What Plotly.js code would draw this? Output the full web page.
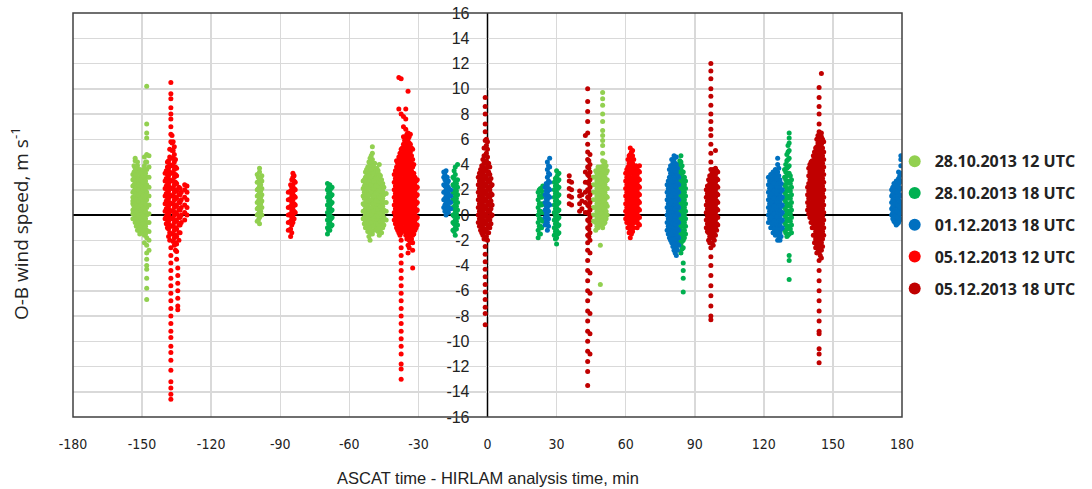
<!DOCTYPE html>
<html>
<head>
<meta charset="utf-8">
<script src="https://cdn.plot.ly/plotly-3.0.1.min.js"></script>
<style>html,body{margin:0;padding:0;background:#fff}#chart{width:1092px;height:489px}</style>
</head>
<body>
<div id="chart"></div>
<script>
// Series names
const seriesNames = ["28.10.2013 12 UTC", "28.10.2013 18 UTC", "01.12.2013 18 UTC", "05.12.2013 12 UTC", "05.12.2013 18 UTC"];
const seriesColors = ["#92D050", "#00B050", "#0070C0", "#FF0000", "#C00000"];

// 28.10.2013 12 UTC: x (min) of each point column, and the y values (O-B, m/s) in that column
const lightGreenCols = [-154, -153, -152, -151, -150, -149, -148, -147,
  -100, -99, -98,
  -54, -53, -52, -51, -50, -49, -48, -47, -46, -45, -44,
  46, 47, 48, 49, 50, 51, 52,
  -153.5, -152.5, -151.5, -150.5, -149.5, -148.5,
  -99.5, -98.5,
  -53.5, -52.5, -51.5, -50.5, -49.5, -48.5, -47.5, -46.5, -45.5,
  47.5, 48.5, 49.5, 50.5, 51.5];
const lightGreenY = [
  [0.4,0.9,1.4,1.8,2.3,2.8,3.2,1.1,0.1,-0.3],
  [-0.6,-0.1,0.5,1.0,1.6,2.1,2.6,3.1,3.7,4.3,4.5,0.8,1.3],
  [-1.2,-0.6,0,0.4,0.9,1.4,1.9,2.4,2.9,3.4,3.9,4.2,1.2,2.2],
  [-1.5,-0.9,-0.3,0.3,0.8,1.3,1.7,2.1,2.6,3.0,3.6,0.6,1.5],
  [-1.0,-0.5,0.1,0.6,1.0,1.5,2.0,2.5,3.1,3.5,-1.3],
  [-2.2,-1.6,-1.0,-0.4,0.2,0.7,1.2,1.7,2.3,2.8,3.4,3.9,4.6],
  [10.2,7.2,6.5,6.1,4.8,4.2,3.6,3.0,2.4,1.8,1.2,0.6,0,-0.6,-1.2,-1.8,-2.4,-3.0,-3.5,-4.0,-4.3,-5.0,-5.8,-6.7],
  [-2.8,-2.0,-1.3,-0.6,0.1,0.8,1.5,2.2,3.0,3.8,4.7],
  [-0.5,0,0.5,1.0,1.5,2.0,2.6,3.2],
  [-0.7,-0.2,0.3,0.8,1.3,1.8,2.3,2.8,3.4,3.7],
  [0,0.6,1.1,1.6,2.1,2.7,3.1],
  [-0.3,0.3,0.9,1.5,2.1,2.7],
  [-1,-0.5,0,0.5,1,1.5,2,2.5,3,3.4],
  [-1.3,-0.7,-0.2,0.3,0.8,1.3,1.8,2.3,2.8,3.3,3.8],
  [-2.0,-1.4,-0.8,-0.2,0.4,1.0,1.6,2.2,2.8,3.4,4.0,4.5],
  [-1.5,-0.9,-0.3,0.3,0.9,1.5,2.1,2.7,3.3,3.9,4.4,5.4,4.9],
  [-1.2,-0.6,0,0.6,1.2,1.8,2.4,3.0,3.6,4.1],
  [-1.0,-0.4,0.2,0.8,1.4,2.0,2.6,3.2,3.7],
  [-1.6,-1.0,-0.4,0.2,0.8,1.4,2.0,2.6,3.2,4.0],
  [-1.4,-0.8,-0.2,0.4,1.0,1.6,2.2,2.8],
  [-0.8,-0.2,0.4,1.0,1.6,2.2],
  [-0.4,0.3,1.0,1.7],
  [-0.5,0,0.6,1.2,1.8,2.4,3.0],
  [-1.2,-0.6,0,0.6,1.2,1.8,2.4,3.0,3.5],
  [-1.0,-0.4,0.2,0.8,1.4,2.0,2.6,3.2,3.8],
  [-2.4,-5.5,-0.8,-0.2,0.4,1.0,1.6,2.2,2.8,3.4,3.8],
  [-1.0,-0.4,0.2,0.8,1.4,2.0,2.6,3.2,3.8,4.3,4.9,5.5,5.9,6.3,6.7,7.4,8.0,8.7,9.2,9.7],
  [-0.6,0,0.6,1.2,1.8,2.4,3.0,3.6,4.2],
  [0,0.7,1.4,2.1,2.8,3.5],
  [-0.3,0.2,0.7,1.3,1.9,2.4,2.9,3.4,3.9],
  [-0.9,-0.3,0.3,0.7,1.2,1.7,2.2,2.7,3.2,3.7],
  [-1.2,-0.6,0,0.6,1.1,1.6,2.0,2.4,2.8,3.3],
  [-0.8,-0.2,0.4,0.8,1.3,1.8,2.3,2.8,3.3],
  [-1.3,-0.7,-0.1,0.5,1.0,1.5,2.0,2.6,3.1,3.6],
  [-1.5,-0.9,-0.3,0.3,0.9,1.5,2.1,2.7,3.3,4.2],
  [-0.4,0.1,0.6,1.1,1.6,2.1,2.6,3.0],
  [0.3,0.9,1.4,1.9,2.4,2.9],
  [-0.7,-0.2,0.3,0.8,1.3,1.8,2.3,2.8],
  [-1.0,-0.4,0.1,0.6,1.1,1.6,2.1,2.6,3.1,3.6],
  [-1.7,-1.1,-0.5,0.1,0.6,1.1,1.6,2.1,2.6,3.1,3.7,4.2],
  [-1.2,-0.6,0,0.6,1.2,1.8,2.4,3.0,3.6,4.2,4.7],
  [-0.9,-0.3,0.3,0.9,1.5,2.1,2.7,3.3,3.9],
  [-0.7,-0.1,0.5,1.1,1.7,2.3,2.9,3.5],
  [-1.3,-0.7,-0.1,0.5,1.1,1.7,2.3,2.9,3.5],
  [-1.1,-0.5,0.1,0.7,1.3,1.9,2.5,3.1],
  [-1.0,-0.5,0.1,0.7,1.3,1.9,2.5],
  [-0.9,-0.3,0.3,0.9,1.5,2.1,2.7,3.3],
  [-0.7,-0.1,0.5,1.1,1.7,2.3,2.9,3.5],
  [-0.5,0.1,0.7,1.3,1.9,2.5,3.1,3.6],
  [-0.7,-0.1,0.5,1.1,1.7,2.3,2.9,3.5,4.0],
  [-0.3,0.3,0.9,1.5,2.1,2.7,3.3,3.9]
];

// 28.10.2013 18 UTC
const greenCols = [-69.5, -68.5, -67.5,
  -15, -14, -13,
  22, 23, 24,
  29, 30, 31,
  83, 84, 85, 86,
  129, 130, 131, 132,
  -69, -68, -14.5, -13.5, 22.5, 23.5, 29.5, 30.5,
  83.5, 84.5, 85.5, 129.5, 130.5, 131.5];
const greenY = [
  [-1.5,-1,-0.4,0.2,0.8,1.4,2.0,2.5],
  [-1.2,-0.6,0,0.6,1.2,1.8,2.4],
  [-0.8,-0.2,0.4,1.0,1.6,2.2],
  [-1.2,-0.6,0,0.6,1.2,1.8,2.4,3.0],
  [-1.6,-1.0,-0.4,0.2,0.8,1.4,2.0,2.6,3.2,3.8],
  [-0.8,-0.2,0.4,1.0,1.6,2.2,2.8,4.0],
  [-1.8,-1.2,-0.6,0,0.6,1.2,1.8],
  [-1.5,-0.9,-0.3,0.3,0.9,1.5,2.1],
  [-0.5,0.2,0.9,1.6,2.3],
  [-1.6,-1.0,-0.4,0.2,0.8,1.4,2.0,2.6],
  [-2.3,-1.8,-1.2,-0.6,0,0.6,1.2,1.8,2.4,3.0,3.5],
  [-1.4,-0.8,-0.2,0.4,1.0,1.6,2.2,2.8,3.3],
  [-2.0,-1.4,-0.8,-0.2,0.4,1.0,1.6,2.2,2.8,3.4,4.0],
  [-3.0,-2.4,-1.8,-1.2,-0.6,0,0.6,1.2,1.8,2.4,3.0,3.6,4.2,4.7],
  [-3.8,-4.4,-5.0,-6.1,-2.6,-2.0,-1.4,-0.8,-0.2,0.4,1.0,1.6,2.2,2.8,3.4],
  [-1.5,-0.9,-0.3,0.3,0.9,1.5,2.1,2.7],
  [-1.2,-0.6,0,0.6,1.2,1.8,2.4,3.0,3.6],
  [-1.7,-1.1,-0.5,0.1,0.7,1.3,1.9,2.5,3.1,3.7,4.3,4.8],
  [-3.2,-3.6,-5.1,-1.5,-0.9,-0.3,0.3,0.9,1.5,2.1,2.7,3.3,3.9,4.5,5.1,5.7,6.1,6.5],
  [-1.4,-0.8,-0.2,0.4,1.0,1.6,2.2,2.8],
  [-1.2,-0.7,-0.1,0.5,1.1,1.7,2.2],
  [-0.9,-0.3,0.3,0.9,1.5,2.1],
  [-1.3,-0.7,-0.1,0.5,1.1,1.7,2.3,2.9,3.5],
  [-1.1,-0.5,0.1,0.7,1.3,1.9,2.5],
  [-1.5,-0.9,-0.3,0.3,0.9,1.5,2.0],
  [-1.0,-0.4,0.2,0.8,1.4,1.9],
  [-1.9,-1.3,-0.7,-0.1,0.5,1.1,1.7,2.3,2.9],
  [-1.5,-0.9,-0.3,0.3,0.9,1.5,2.1,2.7,3.2],
  [-2.3,-1.7,-1.1,-0.5,0.1,0.7,1.3,1.9,2.5,3.1,3.7,4.3],
  [-2.7,-2.1,-1.5,-0.9,-0.3,0.3,0.9,1.5,2.1,2.7,3.3,3.9],
  [-1.8,-1.2,-0.6,0,0.6,1.2,1.8,2.4,3.0],
  [-1.4,-0.8,-0.2,0.4,1.0,1.6,2.2,2.8,3.4,4.0],
  [-1.6,-1.0,-0.4,0.2,0.8,1.4,2.0,2.6,3.2,3.8,4.4,5.0,5.5],
  [-1.1,-0.5,0.1,0.7,1.3,1.9,2.5,3.1]
];

// 01.12.2013 18 UTC
const blueCols = [-19, -18, -17, -16,
  25, 26, 27,
  78, 79, 80, 81, 82, 83,
  122, 123, 124, 125, 126, 127, 128,
  175.5, 176.5, 177.5, 178.5, 179.5,
  -18.5, -17.5, 25.5, 26.5,
  78.5, 79.5, 80.5, 81.5, 82.5,
  122.5, 123.5, 124.5, 125.5, 126.5, 127.5,
  176, 177, 178, 179];
const blueY = [
  [0.6,1.2,1.8,2.4,3.0,3.4],
  [0,0.5,1.0,1.5,2.0,2.5,3.0,3.5],
  [0.2,0.7,1.2,1.7,2.2,2.7],
  [0.5,1.0,1.5,2.0],
  [-0.8,-0.2,0.4,1.0,1.6,2.2],
  [-1.2,-0.6,0,0.6,1.2,1.8,2.4,3.0,3.6,4.2],
  [0.8,1.4,2.0,2.6,3.2,3.8,4.5],
  [-1.2,-0.6,0,0.6,1.2,1.8,2.4],
  [-1.8,-1.2,-0.6,0,0.6,1.2,1.8,2.4,3.0,3.6],
  [-2.2,-1.6,-1.0,-0.4,0.2,0.8,1.4,2.0,2.6,3.2,3.8,4.4],
  [-2.8,-2.2,-1.6,-1.0,-0.4,0.2,0.8,1.4,2.0,2.6,3.2,3.8,4.4,4.7],
  [-3.2,-2.6,-2.0,-1.4,-0.8,-0.2,0.4,1.0,1.6,2.2,2.8,3.4,4.0,4.6],
  [-2.4,-1.8,-1.2,-0.6,0,0.6,1.2,1.8,2.4,3.0],
  [-0.6,0,0.6,1.2,1.8,2.4,3.0],
  [-1.0,-0.4,0.2,0.8,1.4,2.0,2.6,3.2],
  [-1.4,-0.8,-0.2,0.4,1.0,1.6,2.2,2.8,3.4],
  [-1.6,-1.0,-0.4,0.2,0.8,1.4,2.0,2.6,3.2,3.6],
  [-2.0,-1.4,-0.8,-0.2,0.4,1.0,1.6,2.2,2.8,3.4,4.0,4.5],
  [-2.0,-1.4,-0.8,-0.2,0.4,1.0,1.6,2.2,2.8],
  [-1.0,-0.4,0.2,0.8,1.4,2.0],
  [0,0.5,1.0,1.5,2.0],
  [-0.5,0,0.5,1.0,1.5,2.0,2.5],
  [-0.8,-0.3,0.2,0.7,1.2,1.7,2.2,2.7],
  [-0.6,-0.1,0.4,0.9,1.4,1.9,2.4,2.9,3.4],
  [-0.3,0.3,0.9,1.5,2.1,2.7,3.3,3.9,4.4,4.7],
  [0.3,0.8,1.3,1.8,2.3,2.8,3.2],
  [0.5,1.0,1.5,2.0,2.5,3.0],
  [-0.5,0.1,0.7,1.3,1.9,2.5],
  [-0.9,-0.3,0.3,0.9,1.5,2.1,2.7,3.3,3.9],
  [-1.5,-0.9,-0.3,0.3,0.9,1.5,2.1,2.7],
  [-2.0,-1.5,-0.9,-0.3,0.3,0.9,1.5,2.1,2.7,3.3,3.9],
  [-2.5,-1.9,-1.3,-0.7,-0.1,0.5,1.1,1.7,2.3,2.9,3.5,4.1],
  [-3.0,-2.5,-1.9,-1.3,-0.7,-0.1,0.5,1.1,1.7,2.3,2.9,3.5,4.1],
  [-2.8,-2.3,-1.7,-1.1,-0.5,0.1,0.7,1.3,1.9,2.5,3.1,3.7],
  [-0.3,0.3,0.9,1.5,2.1,2.7],
  [-0.7,-0.1,0.5,1.1,1.7,2.3,2.9],
  [-1.1,-0.5,0.1,0.7,1.3,1.9,2.5,3.1],
  [-1.3,-0.7,-0.1,0.5,1.1,1.7,2.3,2.9,3.4],
  [-1.7,-1.1,-0.5,0.1,0.7,1.3,1.9,2.5,3.1,3.7],
  [-1.7,-1.1,-0.5,0.1,0.7,1.3,1.9,2.5],
  [-0.3,0.2,0.7,1.2,1.7,2.2],
  [-0.6,-0.1,0.4,0.9,1.4,1.9,2.4],
  [-0.7,-0.2,0.3,0.8,1.3,1.8,2.3,2.7],
  [-0.4,0.1,0.6,1.1,1.6,2.1,2.6,3.1]
];

// 05.12.2013 12 UTC
const redCols = [-140, -139, -138, -137.5, -137, -136, -135, -134.5, -134, -133,
  -131.5, -130.5,
  -86.5, -85.5, -84.5, -83.5,
  -40.5, -39.5, -38.5, -37.5, -36.5, -35.5, -34.5, -33.5, -32.5, -31.5, -30.5,
  60, 61, 62, 63, 64, 65, 66,
  -139.5, -138.5, -136.5, -135.5, -133.5,
  -85, -84,
  -40, -39, -38, -37, -36, -35, -34, -33, -32, -31,
  60.5, 61.5, 62.5, 63.5, 64.5, 65.5];
const redY = [
  [-0.3,0.3,0.9,1.5,2.1,2.7,3.3],
  [-1.0,-0.4,0.2,0.8,1.4,2.0,2.6,3.2,3.8,4.2],
  [-2.0,-1.4,-0.8,-0.2,0.4,1.0,1.6,2.2,2.8,3.4,4.0,4.6,5.2],
  [10.5,9.6,9.2,8.5,8.0,7.6,7.0,6.4,5.8,-2.6,-3.2,-3.8,-4.4,-5.0,-5.6,-6.2,-6.8,-7.4,-8.0,-8.6,-9.2,-9.7,-10.4,-10.9,-11.5,-12.3,-13.2,-13.7,-14.2,-14.6],
  [-1.5,-0.9,-0.3,0.3,0.9,1.5,2.1,2.7,3.3,3.9,4.5,5.1,5.7,6.3],
  [-2.4,-1.8,-1.2,-0.6,0,0.6,1.2,1.8,2.4,3.0,3.6,4.2,4.8,5.4],
  [-3.5,-2.9,-2.3,-1.7,-1.1,-0.5,0.1,0.7,1.3,1.9,2.5,3.1,3.7],
  [-4.2,-4.8,-5.4,-6.0,-6.6,-7.2,-7.5],
  [-2.0,-1.4,-0.8,-0.2,0.4,1.0,1.6,2.2],
  [-0.6,0,0.6,1.2,1.8],
  [-0.4,0.2,0.8,1.4,2.0,2.4],
  [0,0.6,1.2,1.8,2.3],
  [-1.2,-0.6,0,0.6,1.2,1.8],
  [-1.7,-1.1,-0.5,0.1,0.7,1.3,1.9,2.4],
  [-0.6,0,0.6,1.2,1.8,2.4,3.0,3.3],
  [0.2,0.8,1.4,2.0,2.6],
  [-0.4,0.2,0.8,1.4,2.0,2.6,3.2],
  [-1.0,-0.4,0.2,0.8,1.4,2.0,2.6,3.2,3.8,4.3],
  [-1.4,-0.8,-0.2,0.4,1.0,1.6,2.2,2.8,3.4,4.0,4.6,8.4,10.9],
  [-2.0,-2.6,-3.2,-3.8,-4.4,-5.0,-5.6,-6.2,-6.8,-7.4,-8.0,-8.6,-9.2,-9.8,-10.4,-11.0,-11.8,-12.2,-13.0,-1.4,-0.8,-0.2,0.4,1.0,1.6,2.2,2.8,3.4,4.0,4.6,5.2,8.0,10.8],
  [-1.0,-0.4,0.2,0.8,1.4,2.0,2.6,3.2,3.8,4.4,5.0,5.6,6.2,7.0,7.8],
  [-1.6,-1.0,-0.4,0.2,0.8,1.4,2.0,2.6,3.2,3.8,4.4,5.0,5.6,6.2,6.8,7.6,8.4],
  [-3.0,-2.4,-1.8,-1.2,-0.6,0,0.6,1.2,1.8,2.4,3.0,3.6,4.2,4.8,5.4,6.0,6.5,9.8],
  [-2.2,-1.6,-1.0,-0.4,0.2,0.8,1.4,2.0,2.6,3.2,3.8,4.4,5.0,5.6,6.4],
  [-4.2,-2.8,-2.2,-1.6,-1.0,-0.4,0.2,0.8,1.4,2.0,2.6,3.2,3.8,4.4,5.2],
  [-1.2,-0.6,0,0.6,1.2,1.8,2.4,3.0],
  [-0.8,-0.2,0.4,1.0,1.6,2.2,2.8],
  [-0.3,0.3,0.9,1.5,2.1,2.7,3.3],
  [-1.0,-0.4,0.2,0.8,1.4,2.0,2.6,3.2,3.8,4.4],
  [-1.8,-1.2,-0.6,0,0.6,1.2,1.8,2.4,3.0,3.6,4.2,4.8,5.3],
  [-1.3,-0.7,-0.1,0.5,1.1,1.7,2.3,2.9,3.5,4.1,4.7,5.1],
  [-0.6,0,0.6,1.2,1.8,2.4,3.0,3.6],
  [-1.0,-0.4,0.2,0.8,1.4,2.0,2.6,3.2,3.8],
  [-0.8,-0.2,0.4,1.0,1.6,2.2,2.8,3.4,3.9],
  [-0.7,-0.1,0.5,1.1,1.7,2.3,2.9,3.5],
  [-1.7,-1.1,-0.5,0.1,0.7,1.3,1.9,2.5,3.1,3.7,4.3],
  [-2.1,-1.5,-0.9,-0.3,0.3,0.9,1.5,2.1,2.7,3.3,3.9,4.5,5.1,5.8],
  [-2.8,-2.2,-1.6,-1.0,-0.4,0.2,0.8,1.4,2.0,2.6,3.2,3.8,4.4],
  [-1.4,-0.8,-0.2,0.4,1.0,1.6,2.1],
  [-1.4,-0.8,-0.2,0.4,1.0,1.6,2.2,2.8],
  [-0.3,0.3,0.9,1.5,2.1,2.7,3.1],
  [-0.7,-0.1,0.5,1.1,1.7,2.3,2.9,3.5],
  [-1.2,-0.6,0,0.5,1.1,1.7,2.3,2.9,3.5,4.1],
  [-1.6,-1.0,-0.5,0.1,0.7,1.3,1.9,2.5,3.1,3.7,4.3,4.9],
  [-1.2,-0.6,-0.1,0.5,1.1,1.7,2.3,2.9,3.5,4.1,4.7,5.3],
  [-1.3,-0.7,-0.1,0.5,1.1,1.7,2.3,2.9,3.5,4.1,4.7,5.3,5.9],
  [-1.9,-1.3,-0.7,-0.1,0.5,1.1,1.7,2.3,2.9,3.5,4.1,4.7,5.3,5.9,6.4],
  [-2.6,-2.0,-1.5,-0.9,-0.3,0.3,0.9,1.5,2.1,2.7,3.3,3.9,4.5,5.1,5.7,6.2],
  [-1.9,-1.3,-0.7,-0.1,0.5,1.1,1.7,2.3,2.9,3.5,4.1,4.7,5.3],
  [-1.5,-0.9,-0.3,0.3,0.9,1.5,2.1,2.7,3.3,4.0],
  [-1.0,-0.3,0.3,0.9,1.5,2.1,2.7],
  [-0.6,0,0.6,1.2,1.8,2.4,3.0,3.6],
  [-1.4,-0.7,-0.1,0.5,1.1,1.7,2.3,2.9,3.5,4.1,4.7],
  [-1.5,-0.9,-0.3,0.3,0.9,1.5,2.1,2.7,3.3,3.9,4.5,5.0],
  [-1.0,-0.4,0.2,0.8,1.4,2.0,2.6,3.2,3.8,4.4],
  [-0.3,0.3,0.9,1.5,2.1,2.7,3.3,3.9],
  [-0.7,-0.1,0.5,1.1,1.7,2.3,2.9,3.5]
];

// 05.12.2013 18 UTC
const darkRedCols = [-4, -3, -2, -1, 0, 1, 2,
  35.5, 36.5, 40, 41,
  42.5, 43.5, 44.5,
  95, 96, 97, 98, 99, 100,
  139, 140, 141, 142, 143, 144, 145, 146,
  -3.5, -2.5, -1.5, -0.5, 0.5, 1.5,
  44,
  95.5, 96.5, 97.5, 98.5, 99.5,
  139.5, 140.5, 141.5, 142.5, 143.5, 144.5, 145.5];
const darkRedY = [
  [-0.6,0,0.6,1.2,1.8,2.4,3.0],
  [-1.2,-0.6,0,0.6,1.2,1.8,2.4,3.0,3.6],
  [-1.6,-1.0,-0.4,0.2,0.8,1.4,2.0,2.6,3.2,3.8,4.4],
  [9.3,8.6,8.0,7.2,6.6,5.9,5.3,4.7,4.1,3.5,2.9,2.3,1.7,1.1,0.5,-0.1,-0.7,-1.3,-1.9,-2.5,-3.1,-3.7,-4.3,-4.9,-5.5,-6.1,-6.7,-7.3,-7.8,-8.7],
  [-2.0,-1.4,-0.8,-0.2,0.4,1.0,1.6,2.2,2.8,3.4,4.0,4.6,5.2,5.8],
  [-1.0,-0.4,0.2,0.8,1.4,2.0,2.6,3.2,3.8],
  [0,0.8,1.6,2.4],
  [0.9,1.5,2.1,2.7,3.1],
  [0.8,1.4,2.0,2.6],
  [0.3,0.9,1.5,1.9],
  [0.5,1.1,1.6],
  [0.2,1.0,1.8,2.6,3.4,6.3],
  [10.0,9.0,8.2,7.4,6.5,5.6,5.0,4.4,3.8,3.2,2.6,2.0,1.4,0.8,0.2,-0.4,-1.0,-1.6,-2.2,-2.8,-3.6,-4.4,-5.2,-6.0,-6.8,-7.6,-8.4,-9.2,-10.0,-10.8,-11.6,-12.4,-13.5],
  [-2.0,-1.4,-0.8,-0.2,0.4,1.0,1.6,2.2,2.8,3.4,4.0,4.8,-3.0,-4.6,-6.2,-7.8,-9.4,-11.0],
  [-1.0,-0.4,0.2,0.8,1.4,2.0],
  [-2.0,-1.4,-0.8,-0.2,0.4,1.0,1.6,2.2,2.8],
  [12.0,11.4,10.8,10.0,9.4,8.7,8.0,7.4,6.8,6.3,5.6,4.9,4.2,3.6,3.0,2.4,1.8,1.2,0.6,0,-0.6,-1.2,-1.8,-2.6,-3.3,-4.0,-4.8,-5.6,-6.4,-7.2,-8.0,-8.3],
  [-2.4,-1.8,-1.2,-0.6,0,0.6,1.2,1.8,2.4,3.0,3.6],
  [-1.6,-1.0,-0.4,0.2,0.8,1.4,2.0,2.6,3.2,3.7,5.1],
  [-0.8,-0.2,0.4,1.0,1.6,2.2,2.8,3.4],
  [0.4,1.0,1.6,2.2],
  [-0.2,0.4,1.0,1.6,2.2,2.8,3.4,4.0],
  [-1.0,-0.4,0.2,0.8,1.4,2.0,2.6,3.2,3.8,4.3],
  [-2.2,-1.6,-1.0,-0.4,0.2,0.8,1.4,2.0,2.6,3.2,3.8,4.4,5.0],
  [-3.0,-2.4,-1.8,-1.2,-0.6,0,0.6,1.2,1.8,2.4,3.0,3.6,4.2,4.8,5.4,6.0],
  [10.1,9.3,8.6,8.0,7.2,6.6,6.0,5.4,4.8,4.2,3.6,3.0,2.4,1.8,1.2,0.6,0,-0.6,-1.2,-1.8,-2.4,-3.0,-3.6,-4.4,-5.2,-6.0,-6.8,-7.6,-8.4,-9.2,-9.4,-10.6,-11.0,-11.7],
  [-3.4,-2.8,-2.2,-1.6,-1.0,-0.4,0.2,0.8,1.4,2.0,2.6,3.2,3.8,4.4,5.0,5.6,6.2,6.5,11.2],
  [-1.6,-1.0,-0.4,0.2,0.8,1.4,2.0,2.6,3.2,3.8,4.4,5.0,5.8],
  [-0.9,-0.3,0.3,0.9,1.5,2.1,2.7,3.3],
  [-1.4,-0.9,-0.3,0.3,0.9,1.5,2.1,2.7,3.3,3.9],
  [-1.9,-1.3,-0.7,-0.1,0.5,1.1,1.7,2.3,2.9,3.5,4.1,4.7,5.3],
  [-1.7,-1.1,-0.5,0.1,0.7,1.3,1.9,2.5,3.1,3.7,4.3,4.9,5.5,6.0],
  [-1.4,-0.8,-0.2,0.4,1.0,1.6,2.2,2.8,3.4,4.1],
  [-0.7,-0.1,0.5,1.1,1.7,2.3,2.9],
  [-1.7,-1.1,-0.5,0.1,0.7,1.3,1.9,2.5,3.1,3.7,4.3],
  [-1.3,-0.7,-0.1,0.5,1.1,1.7,2.3],
  [-2.2,-1.7,-1.1,-0.5,0.1,0.7,1.3,1.9,2.5,3.1],
  [-2.2,-1.5,-0.9,-0.3,0.3,0.9,1.5,2.1,2.7,3.3],
  [-2.0,-1.5,-0.9,-0.3,0.3,0.9,1.5,2.1,2.7,3.3],
  [-1.2,-0.7,-0.1,0.5,1.1,1.7,2.3,2.9,3.5],
  [0.1,0.7,1.3,1.9,2.5,3.1,3.7],
  [-0.6,0.1,0.7,1.3,1.9,2.5,3.1,3.7,4.2],
  [-1.6,-0.7,-0.1,0.5,1.1,1.7,2.3,2.9,3.5,4.1,4.7],
  [-2.6,-1.9,-1.3,-0.7,-0.1,0.5,1.1,1.7,2.3,2.9,3.5,4.1,4.7,5.3],
  [-2.7,-2.1,-1.5,-0.9,-0.3,0.3,0.9,1.5,2.1,2.7,3.3,3.9,4.5,5.1,5.7,6.3],
  [-3.2,-2.6,-2.0,-1.4,-0.8,-0.2,0.4,1.0,1.6,2.2,2.8,3.4,4.0,4.6,5.2,5.8,6.4],
  [-2.5,-1.9,-1.3,-0.7,-0.1,0.5,1.1,1.7,2.3,2.9,3.5,4.1,4.7,5.3,6.0]
];

const xTickVals = [-180, -150, -120, -90, -60, -30, 0, 30, 60, 90, 120, 150, 180];
const yTickVals = [-16, -14, -12, -10, -8, -6, -4, -2, 0, 2, 4, 6, 8, 10, 12, 14, 16];

function flatten(cols, ys) {
  const x = [], y = [];
  cols.forEach((c, i) => ys[i].forEach(v => { x.push(c); y.push(v); }));
  return {x, y};
}

const allCols = [lightGreenCols, greenCols, blueCols, redCols, darkRedCols];
const allY = [lightGreenY, greenY, blueY, redY, darkRedY];

const traces = allCols.map((cols, i) => {
  const d = flatten(cols, allY[i]);
  return {
    type: 'scatter', mode: 'markers', x: d.x, y: d.y,
    name: seriesNames[i], legendgroup: 'g' + i,
    marker: {color: seriesColors[i], size: 5},
    cliponaxis: true
  };
});

const layout = {
  width: 1092, height: 489,
  margin: {l: 73, r: 189, t: 13, b: 72},
  paper_bgcolor: '#fff', plot_bgcolor: '#fff',
  showlegend: true,
  font: {family: 'Liberation Sans, Arial, sans-serif', color: '#222'},
  xaxis: {
    range: [-180, 180], tickvals: xTickVals, ticktext: xTickVals.map(String),
    showgrid: true, gridcolor: '#d9d9d9', gridwidth: 1.5,
    zeroline: true, zerolinecolor: '#000', zerolinewidth: 1.5,
    ticks: 'outside', ticklen: 14, tickcolor: 'rgba(0,0,0,0)',
    tickfont: {family: 'Liberation Sans Narrow, DejaVu Sans Condensed, sans-serif', size: 14, color: '#222'},
    showline: false, fixedrange: true
  },
  yaxis: {
    range: [-16, 16], tickvals: yTickVals, ticktext: yTickVals.map(String),
    anchor: 'free', position: 0.5, side: 'left',
    showgrid: true, gridcolor: '#d9d9d9', gridwidth: 1.5,
    zeroline: true, zerolinecolor: '#000', zerolinewidth: 1.5,
    ticks: '', showline: false, ticklabelstandoff: 18,
    tickfont: {family: 'Liberation Sans, Arial, sans-serif', size: 16, color: '#222'},
    fixedrange: true
  },
  shapes: [
    {type: 'rect', xref: 'paper', yref: 'paper', x0: 0, x1: 1, y0: 0, y1: 1,
     line: {color: '#404040', width: 1.5}, fillcolor: 'rgba(0,0,0,0)', layer: 'above'},
    {type: 'line', xref: 'paper', yref: 'paper', x0: 0.5, x1: 0.5, y0: 0, y1: 1,
     line: {color: '#000', width: 1.5}, layer: 'below'}
  ],
  annotations: [
    {text: 'O-B wind speed, m s<sup>-1</sup>', textangle: -90, xref: 'paper', yref: 'paper',
     x: -0.064, y: 0.48, showarrow: false, xanchor: 'center', yanchor: 'middle',
     font: {family: 'Open Sans, Liberation Sans, sans-serif', size: 19, color: '#222'}},
    {text: 'ASCAT time - HIRLAM analysis time, min', xref: 'paper', yref: 'paper',
     x: 0.5, y: -0.152, showarrow: false, xanchor: 'center', yanchor: 'middle',
     font: {family: 'Liberation Sans, Arial, sans-serif', size: 16.5, color: '#222'}}
  ],
  legend: {
    x: 0.99, xanchor: 'left', y: 0.675, yanchor: 'top',
    bgcolor: 'rgba(0,0,0,0)', itemsizing: 'constant', tracegroupgap: 8,
    traceorder: 'grouped',
    font: {family: 'Open Sans, Liberation Sans, sans-serif', size: 16, color: '#222', weight: 'bold'}
  }
};

Plotly.newPlot('chart', traces, layout, {displayModeBar: false, staticPlot: true});
</script>
</body>
</html>
